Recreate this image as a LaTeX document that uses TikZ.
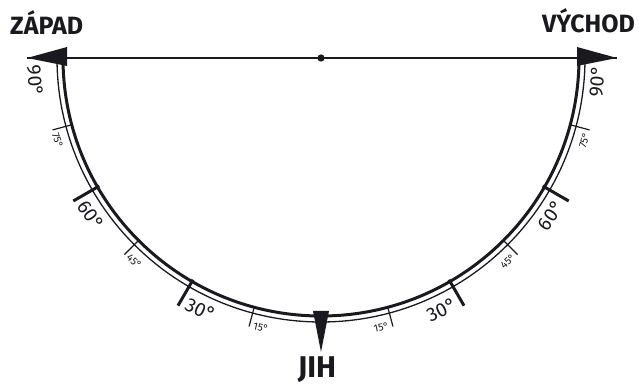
\documentclass[tikz,border=0pt]{standalone}
\usepackage{fontspec}
\setmainfont{Fira Sans}
\usetikzlibrary{calc}
\definecolor{ink}{RGB}{26,26,30}
\begin{document}
\begin{tikzpicture}[x=1pt,y=1pt,
  thickarc/.style={draw=ink,line width=3pt},
  thinarc/.style={draw=ink,line width=1.3pt},
  majortick/.style={draw=ink,line width=3pt},
  minortick/.style={draw=ink,line width=1.2pt},
  biglab/.style={text=ink,inner sep=0pt,font=\fontsize{19.5}{22}\selectfont},
  smalllab/.style={text=ink,inner sep=0pt,font=\fontsize{10.5}{12}\selectfont},
  head/.style={text=ink,inner sep=0pt,font=\bfseries\fontsize{25}{30}\selectfont},
  headbig/.style={text=ink,inner sep=0pt,font=\bfseries\fontsize{30}{36}\selectfont}]
\useasboundingbox (0,0) rectangle (639,385);
\coordinate (C) at (321,327);
\coordinate (W) at (27,327);
\coordinate (E) at (617,327);
% arcs
\draw[thickarc] (C) ++(180:258) arc[start angle=180,end angle=360,radius=258];
\draw[thinarc] (C) ++(180:264) arc[start angle=180,end angle=360,radius=264];
% horizontal line and centre dot
\draw[ink,line width=1.4pt] (W) -- (E);
\fill[ink] (C) circle (3.6);
% arrowheads
\fill[ink] (W) -- (67,338) -- (67,319) -- cycle;
\fill[ink] (E) -- (577,338) -- (577,319) -- cycle;
\fill[ink] (313,74) -- (329,74) -- (321,33) -- cycle;
% ticks
\foreach \t in {30,60}{
  \draw[majortick] (C) ++(-90-\t:256) -- ++(-90-\t:30);
  \draw[majortick] (C) ++(-90+\t:256) -- ++(-90+\t:30);
}
\foreach \t in {15,45,75}{
  \draw[minortick] (C) ++(-90-\t:259) -- ++(-90-\t:19);
  \draw[minortick] (C) ++(-90+\t:259) -- ++(-90+\t:19);
}
% big labels
\foreach \t in {30,60}{
  \pgfmathsetmacro{\a}{\t-4.4}
  \node[biglab,rotate=-\a] (L\t) at ($(C)+(-90-\a:279)$) {\t°};
  \node[biglab,rotate=\a] (R\t) at ($(C)+(-90+\a:279)$) {\t°};
}
\node[biglab,rotate=-85.4] (L90) at ($(C)+(-90-85.4:287)$) {90°};
\node[biglab,rotate=85.2] (R90) at ($(C)+(-90+85.2:277)$) {90°};
% small labels
\foreach \t in {15,45,75}{
  \pgfmathsetmacro{\a}{\t-2.4}
  \node[smalllab,rotate=-\a] (l\t) at ($(C)+(-90-\a:276)$) {\t°};
  \node[smalllab,rotate=\a] (r\t) at ($(C)+(-90+\a:276)$) {\t°};
}
% headings
\node[head,anchor=base west] (zapad) at (10,350) {ZÁPAD};
\node[head,anchor=base east] (vychod) at (635,352) {VÝCHOD};
\node[headbig,anchor=base] (jih) at (317,8) {JIH};
\end{tikzpicture}
\end{document}
